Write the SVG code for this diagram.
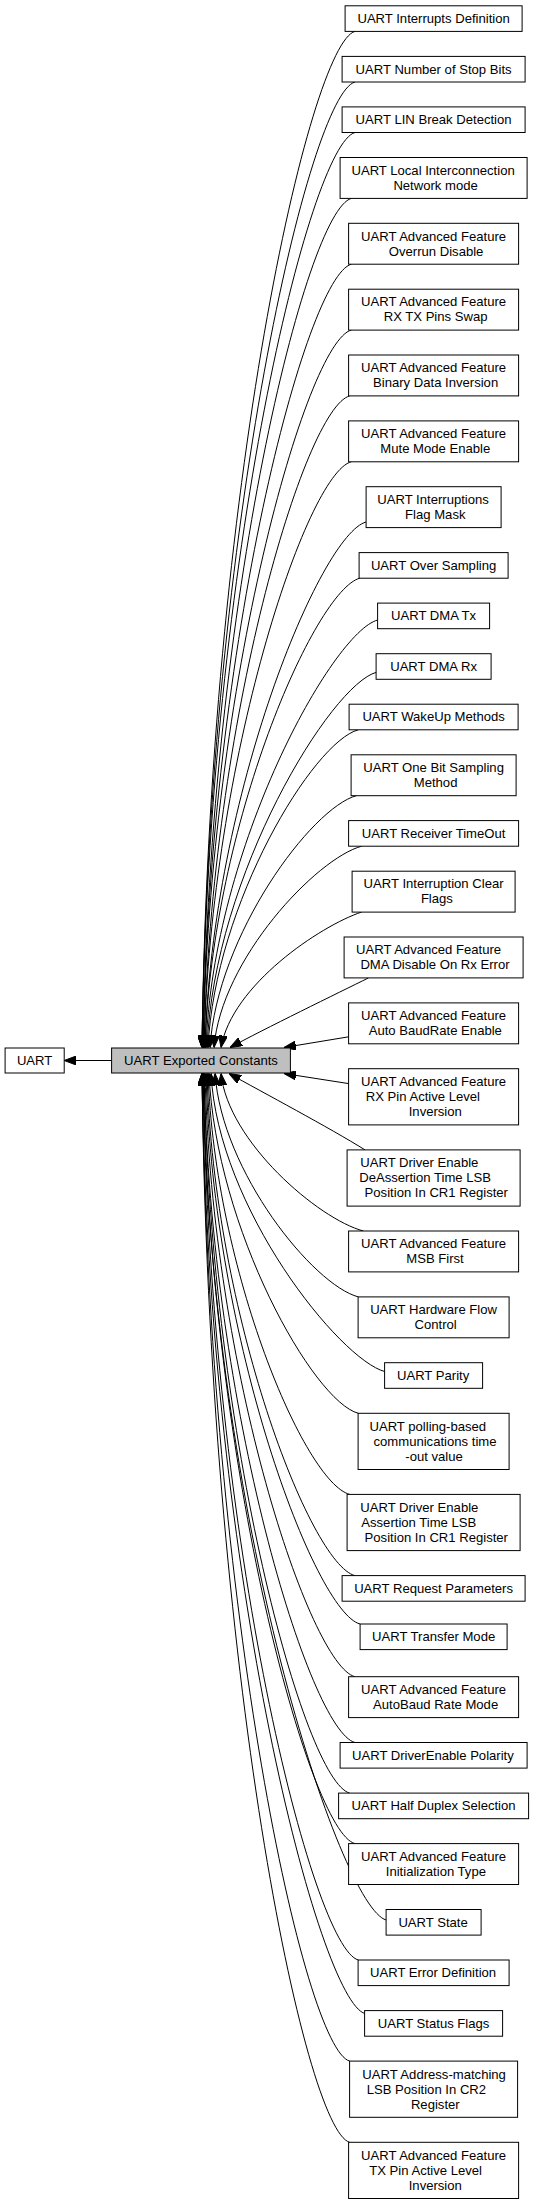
<svg xmlns="http://www.w3.org/2000/svg" width="535" height="2200" viewBox="0 0 535 2200">
<style>
rect{fill:#fff;stroke:#000;stroke-width:1}
rect.hub{fill:#bfbfbf}
text{font-family:"Liberation Sans",Arial,Helvetica,sans-serif;font-size:13.1px;text-anchor:middle;fill:#000}
#edges path{fill:none;stroke:#000;stroke-width:1;marker-end:url(#arr)}
</style>
<defs>
<marker id="arr" viewBox="0 0 12 9" refX="12" refY="4.5" markerWidth="12" markerHeight="9" orient="auto" markerUnits="userSpaceOnUse"><path d="M0,0 L12,4.5 L0,9 z" fill="#000" stroke="#000"/></marker>
</defs>
<rect x="0" y="0" width="535" height="2200" style="fill:#fff;stroke:none"/>
<g id="edges">
<path d="M111.6,1060.5 L64.2,1060.5"/>
<path d="M355,31.4 C310,43.4 209,486.3 202,1047.5"/>
<path d="M355,82 C310,94 209,521.1 202,1047.5"/>
<path d="M355,132.5 C310,144.5 209,555.1 202,1047.5"/>
<path d="M351.4,198.4 C306.4,210.4 210,598.4 203,1047.5"/>
<path d="M351.4,264.2 C306.4,276.2 210,640.4 203,1047.5"/>
<path d="M351.4,330 C306.4,342 210,681.3 203,1047.5"/>
<path d="M349.7,395.9 C304.7,407.9 211,720.9 204,1047.5"/>
<path d="M351.4,461.7 C306.4,473.7 211,759.3 204,1047.5"/>
<path d="M366.1,522 C321.1,534 212,793.4 205,1047.5"/>
<path d="M360,578.1 C315,590.1 212,824.2 205,1047.5"/>
<path d="M377.7,620 C332.7,632 213,846.7 206,1047.5"/>
<path d="M376.4,672.3 C331.4,684.3 214,874 207,1047.5"/>
<path d="M358.3,729.8 C313.3,741.8 215,903.1 208,1047.5"/>
<path d="M356.6,795.6 C311.6,807.6 217,935.3 210,1047.5"/>
<path d="M361.7,846.2 C316.7,858.2 221,959.3 214,1047.5"/>
<path d="M361.7,912 C320,926 232,985 221,1047.5"/>
<path d="M368.5,977.9 C340,992 262,1030 230,1047.5"/>
<path d="M348.7,1036.8 L284,1047.5"/>
<path d="M348.7,1083.6 L284,1073.5"/>
<path d="M365,1149.9 C330,1128 262,1092 229,1073.5"/>
<path d="M363.4,1231 C318.4,1219 228,1141.5 221,1073.5"/>
<path d="M358.3,1296.9 C313.3,1284.9 222,1172.1 215,1073.5"/>
<path d="M384.9,1371.6 C339.9,1359.6 218,1208.2 211,1073.5"/>
<path d="M358.3,1413.3 C313.3,1401.3 216,1229 209,1073.5"/>
<path d="M349.7,1494.4 C304.7,1482.4 215,1270.9 208,1073.5"/>
<path d="M354.9,1575.6 C309.9,1563.6 214,1314.7 207,1073.5"/>
<path d="M360,1624 C315,1612 213,1341.8 206,1073.5"/>
<path d="M354.9,1676.7 C309.9,1664.7 212,1371.7 205,1073.5"/>
<path d="M354.9,1742.5 C309.9,1730.5 211,1410.5 204,1073.5"/>
<path d="M349.7,1793.1 C304.7,1781.1 211,1441 204,1073.5"/>
<path d="M354.9,1843.6 C309.9,1831.6 210,1472.3 203,1073.5"/>
<path d="M386.2,1920 C341.2,1908 210,1520.9 203,1073.5"/>
<path d="M358.3,1960 C313.3,1948 210,1547 203,1073.5"/>
<path d="M365.1,2013.6 C320.1,2001.6 209,1582.7 202,1073.5"/>
<path d="M349.7,2061.1 C304.7,2049.1 209,1615 202,1073.5"/>
<path d="M349.7,2142.3 C304.7,2130.3 209,1671.6 202,1073.5"/>
</g>
<g id="uart"><rect x="5.1" y="1048" width="59.1" height="25"/><text x="34.6" y="1064.8">UART</text></g>
<g id="hub"><rect class="hub" x="111.6" y="1048" width="178.8" height="25"/><text x="201" y="1064.8">UART Exported Constants</text></g>
<g id="n1"><rect x="345.1" y="5.8" width="177" height="25.6"/><text x="433.6" y="22.9">UART Interrupts Definition</text></g>
<g id="n2"><rect x="342.1" y="56.4" width="183" height="25.6"/><text x="433.6" y="73.5">UART Number of Stop Bits</text></g>
<g id="n3"><rect x="342.1" y="106.9" width="183" height="25.6"/><text x="433.6" y="124">UART LIN Break Detection</text></g>
<g id="n4"><rect x="340.1" y="157.5" width="187" height="40.9"/><text x="433.1" y="174.7">UART Local Interconnection</text><text x="435.6" y="189.7">Network mode</text></g>
<g id="n5"><rect x="348.6" y="223.3" width="170" height="40.9"/><text x="433.6" y="240.5">UART Advanced Feature</text><text x="436.1" y="255.5">Overrun Disable</text></g>
<g id="n6"><rect x="348.6" y="289.2" width="170" height="40.9"/><text x="433.6" y="306.4">UART Advanced Feature</text><text x="435.6" y="321.4">RX TX Pins Swap</text></g>
<g id="n7"><rect x="348.6" y="355" width="170" height="40.9"/><text x="433.6" y="372.2">UART Advanced Feature</text><text x="435.6" y="387.2">Binary Data Inversion</text></g>
<g id="n8"><rect x="348.6" y="420.9" width="170" height="40.9"/><text x="433.6" y="438.1">UART Advanced Feature</text><text x="435.3" y="453.1">Mute Mode Enable</text></g>
<g id="n9"><rect x="366.1" y="486.7" width="135" height="40.9"/><text x="433.1" y="503.9">UART Interruptions</text><text x="435.3" y="518.9">Flag Mask</text></g>
<g id="n10"><rect x="359.1" y="552.6" width="149" height="25.6"/><text x="433.6" y="569.6">UART Over Sampling</text></g>
<g id="n11"><rect x="377.6" y="603.1" width="112" height="25.6"/><text x="433.6" y="620.2">UART DMA Tx</text></g>
<g id="n12"><rect x="376.1" y="653.7" width="115" height="25.6"/><text x="433.6" y="670.8">UART DMA Rx</text></g>
<g id="n13"><rect x="349.1" y="704.2" width="169" height="25.6"/><text x="433.6" y="721.3">UART WakeUp Methods</text></g>
<g id="n14"><rect x="351.1" y="754.8" width="165" height="40.9"/><text x="433.6" y="772">UART One Bit Sampling</text><text x="435.6" y="787">Method</text></g>
<g id="n15"><rect x="348.6" y="820.6" width="170" height="25.6"/><text x="433.6" y="837.7">UART Receiver TimeOut</text></g>
<g id="n16"><rect x="352.1" y="871.2" width="163" height="40.9"/><text x="433.6" y="888.4">UART Interruption Clear</text><text x="436.9" y="903.4">Flags</text></g>
<g id="n17"><rect x="344.1" y="937" width="179" height="40.9"/><text x="428.6" y="954.2">UART Advanced Feature</text><text x="435" y="969.2">DMA Disable On Rx Error</text></g>
<g id="n18"><rect x="348.6" y="1002.9" width="170" height="40.9"/><text x="433.6" y="1020.1">UART Advanced Feature</text><text x="435.3" y="1035.1">Auto BaudRate Enable</text></g>
<g id="n19"><rect x="348.6" y="1068.7" width="170" height="56.2"/><text x="433.6" y="1086.1">UART Advanced Feature</text><text x="422.9" y="1101.1">RX Pin Active Level</text><text x="435.3" y="1116.1">Inversion</text></g>
<g id="n20"><rect x="347.1" y="1149.9" width="173" height="56.2"/><text x="419.3" y="1167.3">UART Driver Enable</text><text x="425.1" y="1182.3">DeAssertion Time LSB</text><text x="436.3" y="1197.3">Position In CR1 Register</text></g>
<g id="n21"><rect x="348.6" y="1231" width="170" height="40.9"/><text x="433.6" y="1248.2">UART Advanced Feature</text><text x="435" y="1263.2">MSB First</text></g>
<g id="n22"><rect x="358.1" y="1296.9" width="151" height="40.9"/><text x="433.6" y="1314.1">UART Hardware Flow</text><text x="435.6" y="1329.1">Control</text></g>
<g id="n23"><rect x="384.6" y="1362.7" width="98" height="25.6"/><text x="433.1" y="1379.8">UART Parity</text></g>
<g id="n24"><rect x="358.1" y="1413.3" width="151" height="56.2"/><text x="427.8" y="1430.6">UART polling-based</text><text x="435" y="1445.6">communications time</text><text x="434.1" y="1460.6">-out value</text></g>
<g id="n25"><rect x="347.1" y="1494.4" width="173" height="56.2"/><text x="419.3" y="1511.8">UART Driver Enable</text><text x="418.8" y="1526.8">Assertion Time LSB</text><text x="436.3" y="1541.8">Position In CR1 Register</text></g>
<g id="n26"><rect x="342.1" y="1575.6" width="183" height="25.6"/><text x="433.6" y="1592.7">UART Request Parameters</text></g>
<g id="n27"><rect x="360.1" y="1624" width="147" height="25.6"/><text x="433.6" y="1641.1">UART Transfer Mode</text></g>
<g id="n28"><rect x="348.6" y="1676.7" width="170" height="40.9"/><text x="433.6" y="1693.9">UART Advanced Feature</text><text x="435.6" y="1708.9">AutoBaud Rate Mode</text></g>
<g id="n29"><rect x="340.1" y="1742.5" width="187" height="25.6"/><text x="432.9" y="1759.6">UART DriverEnable Polarity</text></g>
<g id="n30"><rect x="338.6" y="1793.1" width="190" height="25.6"/><text x="433.6" y="1810.2">UART Half Duplex Selection</text></g>
<g id="n31"><rect x="348.6" y="1843.6" width="170" height="40.9"/><text x="433.6" y="1860.8">UART Advanced Feature</text><text x="435.9" y="1875.8">Initialization Type</text></g>
<g id="n32"><rect x="386.1" y="1909.5" width="95" height="25.6"/><text x="433.1" y="1926.6">UART State</text></g>
<g id="n33"><rect x="358.1" y="1960" width="151" height="25.6"/><text x="433.1" y="1977.1">UART Error Definition</text></g>
<g id="n34"><rect x="364.6" y="2010.6" width="138" height="25.6"/><text x="433.6" y="2027.7">UART Status Flags</text></g>
<g id="n35"><rect x="349.6" y="2061.1" width="168" height="56.2"/><text x="434.1" y="2078.5">UART Address-matching</text><text x="426.4" y="2093.5">LSB Position In CR2</text><text x="435.3" y="2108.5">Register</text></g>
<g id="n36"><rect x="348.6" y="2142.3" width="170" height="56.2"/><text x="433.6" y="2159.7">UART Advanced Feature</text><text x="425.6" y="2174.7">TX Pin Active Level</text><text x="435.3" y="2189.7">Inversion</text></g>
</svg>
